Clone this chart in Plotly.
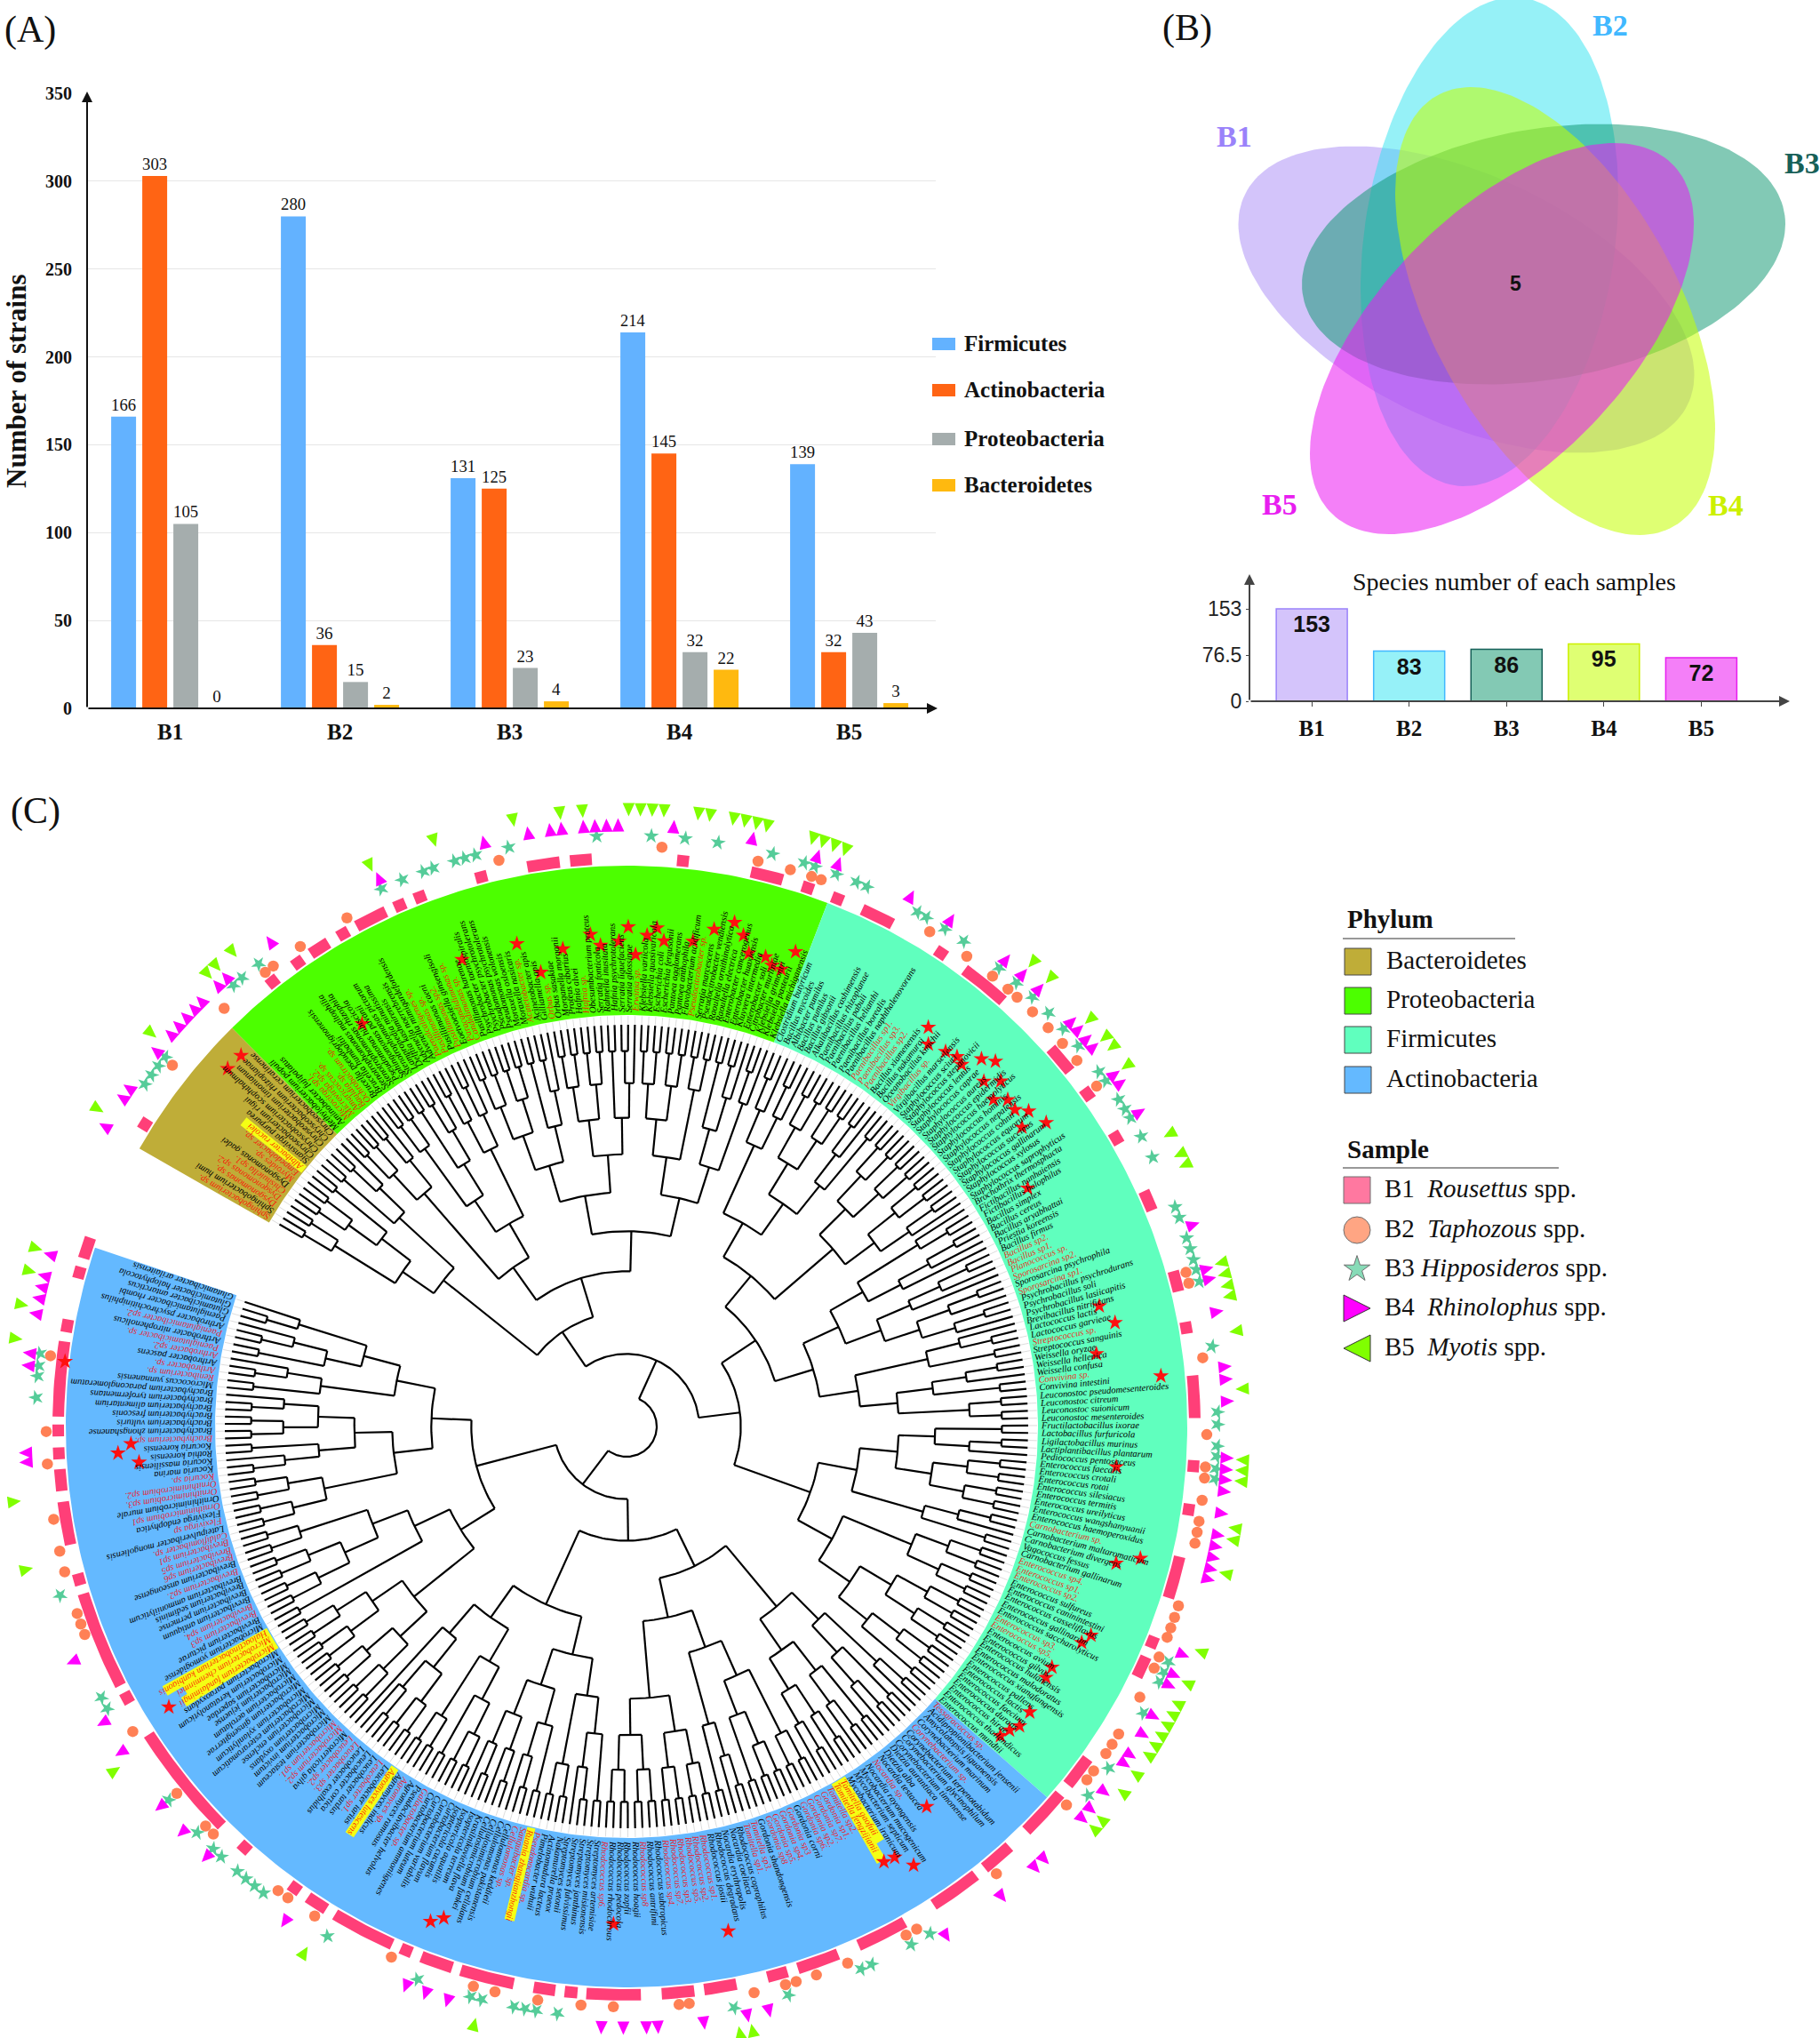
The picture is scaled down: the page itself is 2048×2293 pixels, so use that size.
import math
import plotly.graph_objects as go

# ---------- Panel A ----------
SAMPLES = ["B1", "B2", "B3", "B4", "B5"]
FIRMICUTES = [166, 280, 131, 214, 139]
ACTINOBACTERIA = [303, 36, 125, 145, 32]
PROTEOBACTERIA = [105, 15, 23, 32, 43]
BACTEROIDETES = [0, 2, 4, 22, 3]
A_TICKS = [0, 50, 100, 150, 200, 250, 300, 350]

# ---------- Panel B ----------
SPECIES_COUNTS = [153, 83, 86, 95, 72]
SHARED_SPECIES = 5

# ---------- Panel C : leaves, clockwise ----------
BACTEROIDETES_TAXA = ["Sphingobacterium sp.", "Sphingobacterium humi", "Dysgonomonas sp.", "Dysgonomonas sp2.", "Chishuiella sp1.", "Dysgonomonas gadei", "Myroides sp.", "Empedobacter sp.", "Albibacter rucolei", "Siansivirga purpurea", "Chryseobacterium rigui", "Chryseobacterium scophthalmum", "Chryseobacterium timonianum", "Chryseobacterium rhizoplanae", "Chryseobacterium ceratinense"]
PROTEOBACTERIA_TAXA = ["Methylobacterium populi", "Aminobacter fujipalatus", "Microvirga sp1.", "Microvirga sp2.", "Amaricoccus sp.", "Bauldia sp.", "Ochrobactrum sp.", "Brucella pseudogrignonensis", "Brucella humbaltii", "Stenotrophomonas maltophilia", "Stenotrophomonas rhizophila", "Pseudomonas hibiscicola", "Sphingomonas pavanii", "Stenotrophomonas pictorum", "Lampropedia minutissima", "Delftia kashmirensis", "Advenella noerrebrensis", "Advenella mimigardefordensis", "Paenalcaligenes sp.", "Pusillimonas sp.", "Pusillimonas caeni", "Pusillimonas sp2.", "Eoetvoesiella ginsengisoli", "Paracandidimonas sp.", "Candidimonas sp.", "Pusillimonas harenae", "Psychrobacter taeniospiralis", "Psychrobacter psychrotolerans", "Pseudomonas psychrotolerans", "Pseudomonas wolonensis", "Moraxella osloensis", "Moraxella nasicaris", "Acinetobacter sp.", "Acinetobacter apis", "Gilliamella apis", "Orbus sp.", "Orbus sasakiae", "Morganella morganii", "Proteus cibarius", "Hafnia alvei", "Hafnia sp.", "Obesumbacterium proteus", "Serratia fonticola", "Rahnella inusitata", "Hafnia psychrotolerans", "Serratia liquefaciens", "Serratia glossinae", "Erwinia sp.", "Klebsiella variicola", "Klebsiella quasivaricola", "Escherichia coli", "Escherichia fergusonii", "Pantoea agglomerans", "Pantoea anthophila", "Flavobacterium acidificum", "Pseudocitrobacter sp.", "Serratia marcescens", "Pseudocitrobacter vendiensis", "Raoultella ornithinolytica", "Raoultella electrica", "Enterobacter cancerogenus", "Enterobacter huaxiensis", "Kluyvera intermedia", "Enterobacter soli", "Citrobacter murliniae", "Klebsiella grimontii", "Klebsiella pasteurii", "Klebsiella michiganensis"]
FIRMICUTES_TAXA = ["Clostridium butyricum", "Bacillus mycoides", "Albibacter pumilus", "Bacillus pumilus", "Bacillus gibsonii", "Alkalibacillus cashimensis", "Paenibacillus rhizoplanae", "Paenibacillus pabuli", "Paenibacillus helianthi", "Paenibacillus borealis", "Paenibacillus naphthalenovorans", "Paenibacillus sp1.", "Paenibacillus sp3.", "Paenibacillus sp2.", "Bacillus xiamenensis", "Bacillus nakamurai", "Oceanobacillus kimchii", "Virgibacillus sp.", "Virgibacillus marseilensis", "Staphylococcus sciuri", "Staphylococcus stepanovicii", "Staphylococcus lentus", "Staphylococcus caprae", "Staphylococcus aureus", "Staphylococcus epidermidis", "Staphylococcus haemolyticus", "Staphylococcus hominis", "Staphylococcus nepalensis", "Staphylococcus cohnii", "Staphylococcus equorum", "Staphylococcus succinus", "Staphylococcus gallinarum", "Staphylococcus xylosus", "Staphylococcus saprophyticus", "Brochothrix thermosphacta", "Fictibacillus nanhaiensis", "Fictibacillus halophilus", "Bacillus simplex", "Bacillus cereus", "Bacillus aryabhattai", "Priestia koreensis", "Bacillus firmus", "Bacillus sp2.", "Bacillus sp1.", "Planococcus sp.", "Sporosarcina sp2.", "Sporosarcina psychrophila", "Sporosarcina sp1.", "Psychrobacillus psychrodurans", "Psychrobacillus soli", "Psychrobacillus lasiicapitis", "Brevibacillus nitrificans", "Lactococcus lactis", "Lactococcus garvieae", "Streptococcus sp.", "Streptococcus sanguinis", "Weissella oryzae", "Weissella hellenica", "Weissella confusa", "Convivina sp.", "Convivina intestini", "Leuconostoc pseudomesenteroides", "Leuconostoc citreum", "Leuconostoc suionicum", "Leuconostoc mesenteroides", "Fructilactobacillus ixorae", "Lactobacillus furfuricola", "Ligilactobacillus murinus", "Lactiplantibacillus plantarum", "Pediococcus pentosaceus", "Enterococcus faecalis", "Enterococcus crotali", "Enterococcus rotai", "Enterococcus silesiacus", "Enterococcus termitis", "Enterococcus ureilyticus", "Enterococcus wangshanyuanii", "Enterococcus haemoperoxidus", "Carnobacterium sp.", "Carnobacterium maltaromaticum", "Carnobacterium divergens", "Vagococcus fessus", "Carnobacterium gallinarum", "Enterococcus sp4.", "Enterococcus sp1.", "Enterococcus sp2.", "Enterococcus sulfureus", "Enterococcus caninintestini", "Enterococcus casseliflavus", "Enterococcus gallinarum", "Enterococcus saccharolyticus", "Enterococcus sp3.", "Enterococcus sp5.", "Enterococcus avium", "Enterococcus gilvus", "Enterococcus hulanensis", "Enterococcus malodoratus", "Enterococcus xiangfangensis", "Enterococcus pallens", "Enterococcus lactis", "Enterococcus faecium", "Enterococcus durans", "Enterococcus hirae", "Enterococcus thailandicus", "Enterococcus mundtii"]
ACTINOBACTERIA_TAXA = ["Tessaracoccus sp.", "Acidipropionibacterium jensenii", "Amycolatopsis jiguanensis", "Corynebacterium marinum", "Corynebacterium sp.", "Corynebacterium terpenotabidum", "Corynebacterium glycinophilum", "Corynebacterium timonense", "Dietzia aurantiaca", "Dietzia alba", "Nocardia testacea", "Nocardia sp.", "Nocardia rayongensis", "Mycobacterium mucogenicum", "Mycobacterium septicum", "Mycobacterium iranicum", "Tomitella gaofuii", "Tomitella fengzijianii", "Tomitella sp2.", "Gordonia sp1.", "Gordonia sp7.", "Gordonia sp2.", "Gordonia sp6.", "Gordonia corni", "Gordonia sp3", "Gordonia sp4.", "Gordonia sp5.", "Gordonia sp8", "Gordonia shandongensis", "Tomitella sp3.", "Tomitella sp1.", "Rhodococcus coprophilus", "Nocardia coeliaca", "Nocardia erythropolis", "Rhodococcus degradans", "Rhodococcus jostii", "Rhodococcus sp1.", "Rhodococcus sp2.", "Rhodococcus sp5.", "Rhodococcus sp3.", "Rhodococcus sp7.", "Rhodococcus sp4.", "Rhodococcus subtropicus", "Rhodococcus antrifimi", "Rhodococcus sp8", "Rhodococcus hoagii", "Rhodococcus zopfii", "Rhodococcus pedocola", "Rhodococcus rhodochrous", "Rhodococcus sp6.", "Streptomyces artemisiae", "Streptomyces misionensis", "Streptomyces janthinus", "Streptomyces fulvissimus", "Streptomyces setonii", "Nakamurella praeox", "Actinomadura lacteus", "Pimelobacter wuhuii", "Pseudonocardia sp.", "Ruania zhangjianzhongii", "Sanguibacter sp.", "Cellulomonas sp.", "Cellulomonas keddieii", "Cellulomonas pakistanensis", "Cellulosimicrobium cellulans", "Cellulosimicrobium funkei", "Krasilnikoviella flava", "Isoptericola terreum", "Isoptericola aquatilis", "Isoptericola cucumis", "Curtobacterium flavum", "Curtobacterium variabilis", "Curtobacterium luteum", "Curtobacterium ammoniigenes", "Galactobacter sp.", "Pseudoclavibacter helvolus", "Agromyces ramosus", "Agromyces sp.", "Agromyces indicus", "Agromyces lutescens", "Leucobacter iarius", "Leucobacter sp1.", "Leucobacter tardus", "Leucobacter cortica", "Leucobacter exalbidus", "Leucobacter sp3.", "Leucobacter sp2.", "Microterricola gilva", "Microbacterium sp2.", "Microbacterium sp1.", "Microbacterium testaceum", "Microbacterium invictum", "Microbacterium oxydans", "Microbacterium enclense", "Microbacterium esteraromaticum", "Microbacterium xylanilyticum", "Microbacterium ginsengiterrae", "Microbacterium aerolatum", "Microbacterium jejuense", "Microbacterium saperdae", "Microbacterium keratanolyticum", "Microbacterium paraoxydans", "Microbacterium fandaimingii", "Microbacterium chenminmei", "Haloactinobacterium kanbiaonis", "Microbacterium yomogidense", "Brevibacterium picturae", "Brevibacterium sp3", "Brevibacterium sp4.", "Brevibacterium antiquum", "Brevibacterium permense", "Brevibacterium sediminis", "Brevibacterium ammoniilyticum", "Brevibacterium sp2.", "Brevibacterium anseongense", "Brevibacterium sp6", "Brevibacterium sp5", "Brevibacterium sp1", "Caldiflomibacter sp.", "Lateipulveribacter mongoliensis", "Flexivirga sp", "Flexivirga endophytica", "Ornithinimicrobium sp1", "Ornithinimicrobium murale", "Ornithinimicrobium sp3.", "Ornithinimicrobium sp2.", "Kocuria sp.", "Kocuria marina", "Kocuria massiliensis", "Rothia koreensis", "Kocuria koreensis", "Brachybacterium sp.", "Brachybacterium zhongshanense", "Brachybacterium vulturis", "Brachybacterium fresconis", "Brachybacterium alimentarium", "Brachybacterium tyrofermentans", "Brachybacterium paraconglomeratum", "Micrococcus yunnanensis", "Renibacterium sp.", "Arthrobacter sp.", "Arthrobacter pascens", "Arthrobacter sp2.", "Paeniglutamicibacter sp.", "Arthrobacter nitrophenolicus", "Paeniglutamicibacter sp2.", "Arthrobacter psychrochitiniphilus", "Paeniglutamicibacter rhombi", "Glutamicibacter antarcticus", "Glutamicibacter halophytocola", "Glutamicibacter arilaitensis"]
HIGHLIGHTED = ["Albibacter rucolei", "Tomitella gaofuii", "Tomitella fengzijianii", "Ruania zhangjianzhongii", "Agromyces lutescens", "Microbacterium fandaimingii", "Microbacterium chenminmei", "Haloactinobacterium kanbiaonis"]

# Clade span (degrees clockwise from north)
PHYLUM_NAMES = ["Bacteroidetes", "Proteobacteria", "Firmicutes", "Actinobacteria"]
PHYLUM_START = [-60.3, -44.7, 21.0, 131.4]
PHYLUM_END = [-44.7, 21.0, 131.4, 288.6]
PHYLUM_COLORS = ["#BFAD38", "#4CFF00", "#60FFBE", "#64B9FF"]

# B1 blocks: centre angle, angular width
B1_ANGLE = [-57.9, -38.5, -35.3, -32.7, -29.9, -26.7, -23.5, -21.3, -14.8, -8.4, -4.6, 5.7, 14.3, 18.6, 21.8, 26.2, 33.6, 39, 49.8, 54.2, 59.5, 66.6, 75.2, 80, 87, 94, 98.4, 105.4, 112.3, 115, 127.4, 132.8, 139.3, 144.7, 153.3, 160.3, 164.6, 170.5, 174.8, 181.3, 185.6, 188.3, 194.2, 199.5, 202.8, 207.6, 213, 215.7, 222.2, 231.3, 241.5, 247.9, 254.4, 260.2, 264.6, 267.3, 269.6, 274.8, 280.2, 285.7, 288.3]
B1_WIDTH = [1.2, 1.2, 1.2, 2.1, 1.2, 3.3, 1.2, 1.2, 1.2, 3.3, 2.2, 1.2, 3.3, 1.2, 1.2, 3.4, 1.2, 5, 3, 1.3, 1.3, 2.1, 2.1, 1.2, 4.3, 1.2, 1.2, 4.3, 1.2, 2.2, 3.3, 5, 3.3, 5.2, 5.2, 4.3, 2.1, 3.3, 3.3, 5.5, 1.3, 2.2, 5.5, 3.3, 1.2, 6.5, 2.2, 1.2, 1.2, 11.8, 1.2, 10, 1.2, 4.4, 2.2, 1.2, 1.2, 7.6, 1.3, 1.2, 2.2]
B2_ANGLE = [-51.5, -43.9, -38.5, -37.5, -34.2, -28.8, -12.7, 3.5, 13.1, 16.4, 18.6, 19.6, 31.5, 35.9, 39.1, 41.1, 42.3, 44.4, 46.6, 48.7, 50.9, 54.1, 74.6, 75.7, 83.2, 90.8, 94, 95.1, 97.3, 99.4, 100.5, 101.6, 108, 109.2, 110.3, 111.3, 113.4, 114.6, 117.8, 122, 123.2, 124.3, 126.4, 127.5, 130.7, 140.4, 150, 151.2, 157.6, 160.9, 163, 164.1, 167.3, 173.8, 174.8, 181.3, 184.5, 188.8, 193.1, 195.3, 203.9, 212.5, 215.7, 216.9, 225.4, 226.5, 230.8, 238.3, 249, 250.1, 251.2, 255.5, 257.6, 260.8, 266.3, 269.5, 277]
B3_ANGLE = [-54.6, -53.5, -52.4, -51.3, -41.7, -40.6, -38.5, -24.5, -22.3, -20.1, -19.1, -16.9, -15.9, -14.8, -11.5, -2.9, 2.4, 5.7, 8.9, 14.3, 17.5, 18.6, 20.8, 22.9, 24, 29.5, 30.5, 32.6, 34.8, 39.1, 41.3, 43.4, 45.6, 47.7, 49.9, 53.1, 54.2, 56.4, 57.5, 58.5, 60.6, 62.9, 68.2, 69.3, 71.4, 72.5, 73.6, 74.6, 75.8, 82.2, 88.6, 89.8, 91.9, 92.9, 94.1, 95.1, 113.5, 114.6, 115.6, 119, 125.3, 128.6, 149.1, 151.2, 155.5, 156.6, 164.1, 169.5, 186.7, 188.8, 189.9, 191, 194.2, 195.3, 200.7, 210.4, 217.9, 219, 220.1, 221.2, 223.3, 224.4, 226.6, 230.8, 241.5, 242.7, 253.4, 272.8, 274.9, 275.9, 277.1]
B4_ANGLE = [-60.1, -56.9, -55.8, -51.4, -49.3, -48.2, -47.1, -46, -45, -42.8, -41.7, -36.3, -24.3, -13.7, -9.4, -7.3, -6.2, -4.1, -3, -1.9, -0.8, 4.5, 12.1, 18.5, 20.6, 28.2, 32.6, 39.1, 41.2, 43.3, 47.7, 48.7, 49.9, 50.9, 54.2, 55.2, 58.5, 70.4, 74.8, 75.8, 79, 84.3, 85.5, 87.6, 93, 94.1, 95.1, 96.2, 98.3, 100.4, 101.5, 102.6, 103.7, 104.7, 112.3, 114.4, 115.5, 118.8, 120.8, 123.1, 124.1, 127.4, 129.5, 130.7, 136, 137.2, 141.4, 147.9, 166.3, 168.4, 172.6, 177, 178.1, 180.3, 182.4, 197.3, 199.5, 201.5, 214.6, 224.3, 227.6, 230.8, 237.2, 240.5, 247, 266.6, 267.5, 275.8, 277, 280.8, 282.3, 283.4, 284.5, 286.6]
B5_ANGLE = [-59, -50.4, -42.8, -41.7, -39.7, -24.6, -18.2, -10.6, -6.2, -4.1, 0.2, 1.3, 2.4, 3.5, 6.7, 7.8, 10, 11.1, 12.2, 13.2, 17.6, 18.6, 19.7, 20.8, 41.2, 43.4, 48.7, 50.9, 52, 54.2, 61.7, 63.8, 64.9, 74.6, 75.7, 76.8, 77.8, 81.1, 86.5, 93.1, 94.1, 95.1, 99.5, 100.6, 103.8, 111.4, 114.6, 116.7, 117.8, 118.9, 120, 121.1, 122.2, 124.3, 126.4, 129.6, 130.7, 168.2, 169.4, 194.3, 211.5, 236.1, 256.6, 263, 278.2, 281.4, 284.6, 286.8]

# Red stars: angle, radius
STAR_ANGLE = [-48.1, -46.1, -33.3, -19.4, -12.8, -10.7, -7.6, -4.2, -3.1, -0.9, 0.2, 1.1, 2.4, 3.5, 4.4, 7.8, 10, 12.1, 13.4, 14.5, 16.5, 17.5, 18.7, 19.6, 37.1, 38.3, 40.4, 41.8, 42.8, 44, 45.3, 46, 47.3, 48.3, 49.4, 50.8, 51.9, 52.9, 54.1, 59.3, 75.7, 78, 81.2, 84.6, 94.7, 104.4, 105.6, 114.2, 115.4, 119.5, 120.9, 125.3, 127.3, 128.4, 129.6, 141.7, 146.8, 148.1, 149.4, 168.6, 181.5, 200.4, 201.6, 238.5, 265.8, 267, 268, 276.6]
STAR_RADIUS = [603, 602, 542, 557, 557, 520, 542, 555, 542, 546, 562, 531, 553, 562, 548, 551, 568, 580, 568, 550, 551, 544, 543, 567, 563, 548, 554, 558, 555, 575, 584, 559, 573, 553, 565, 564, 575, 558, 583, 525, 549, 562, 535, 604, 553, 597, 572, 573, 567, 550, 550, 556, 556, 550, 546, 545, 590, 571, 569, 579, 560, 590, 599, 604, 550, 573, 558, 636]

# ---------- geometry constants ----------
CX, CY = 705.0, 1605.0
R_IN, R_OUT = 463.0, 631.0
R_TIP, R_ROOT = 452.0, 34.0
R_LABEL = 466.0
LABEL_BOX = 176.0
CHAR_W = 3.95
W, H = 2048, 2293
SERIF = "Liberation Serif"
SANS = "Liberation Sans"


def polar(theta, r):
    t = math.radians(theta)
    return CX + r * math.sin(t), CY - r * math.cos(t)


def annular(t0, t1, r0, r1):
    n = max(2, int(abs(t1 - t0) / 0.7) + 1)
    ts = [t0 + (t1 - t0) * i / n for i in range(n + 1)]
    pts = [polar(t, r1) for t in ts] + [polar(t, r0) for t in reversed(ts)]
    pts.append(pts[0])
    return [p[0] for p in pts], [p[1] for p in pts]


fig = go.Figure()

# ---- Panel A bars
A_SERIES = [("Firmicutes", FIRMICUTES, "#63B2FF"), ("Actinobacteria", ACTINOBACTERIA, "#FF6414"),
            ("Proteobacteria", PROTEOBACTERIA, "#A5ADAD"), ("Bacteroidetes", BACTEROIDETES, "#FFB90F")]
for name, vals, col in A_SERIES:
    fig.add_trace(go.Bar(x=SAMPLES, y=vals, name=name,
                         marker=dict(color=col, line=dict(width=8, color="rgba(0,0,0,0)")),
                         text=vals, textposition="outside", cliponaxis=False,
                         textfont=dict(family=SERIF, size=19, color="#111"),
                         showlegend=False, xaxis="x", yaxis="y"))

# ---- Panel B counts
B_LIGHT = ["#D4C4FB", "#96F1F8", "#83C9B4", "#DFFF73", "#F47FF8"]
B_EDGE = ["#9A82FA", "#41B8FF", "#176058", "#CCF000", "#E81EF0"]
fig.add_trace(go.Bar(x=SAMPLES, y=SPECIES_COUNTS, width=0.73, marker=dict(color=B_LIGHT, line=dict(color=B_EDGE, width=1.5)),
                     texttemplate="<b>%{y}</b>", textposition="inside", insidetextanchor="end", textangle=0,
                     textfont=dict(family=SANS, size=25, color="#111"), showlegend=False, xaxis="x2", yaxis="y2"))

# ---- Venn petals: centre, half extents, offset at the right-most point
VENN = [("B1", 1650, 337, 256.5, 172.5, 85, "rgba(168,138,245,0.5)"),
        ("B2", 1676, 272, 145, 275, -53, "rgba(46,227,240,0.5)"),
        ("B3", 1737, 286, 272, 146.5, -34, "rgba(5,148,107,0.5)"),
        ("B4", 1750, 350, 180, 252, 133, "rgba(196,255,0,0.55)"),
        ("B5", 1690, 381, 216, 220, -129, "rgba(235,23,242,0.55)")]
for name, cx, cy, hw, hh, dy, col in VENN:
    xs, ys = [], []
    k = math.sqrt(max(hh * hh - dy * dy, 1))
    for i in range(181):
        t = math.radians(i * 2)
        xs.append(cx + hw * math.cos(t))
        ys.append(cy + dy * math.cos(t) + k * math.sin(t))
    fig.add_trace(go.Scatter(x=xs, y=ys, mode="lines", fill="toself", fillcolor=col, line=dict(width=0),
                             name=name, showlegend=False, xaxis="x3", yaxis="y3", hoverinfo="name"))

# ---- Panel C sectors
PHYLUM_TAXA = [BACTEROIDETES_TAXA, PROTEOBACTERIA_TAXA, FIRMICUTES_TAXA, ACTINOBACTERIA_TAXA]
for name, t0, t1, col in zip(PHYLUM_NAMES, PHYLUM_START, PHYLUM_END, PHYLUM_COLORS):
    xs, ys = annular(t0, t1, R_IN, R_OUT)
    fig.add_trace(go.Scatter(x=xs, y=ys, mode="lines", fill="toself", fillcolor=col, line=dict(width=0),
                             name=name, showlegend=False, xaxis="x3", yaxis="y3", hoverinfo="name"))

# leaves
leaves = []
for taxa, t0, t1 in zip(PHYLUM_TAXA, PHYLUM_START, PHYLUM_END):
    step = (t1 - t0) / len(taxa)
    for i, nm in enumerate(taxa):
        leaves.append((nm, t0 + (i + 0.5) * step, step))

# yellow highlights
yx, yy = [], []
for nm, th, step in leaves:
    if nm in HIGHLIGHTED:
        a, b = annular(th - step * 0.55, th + step * 0.55, R_LABEL - 2, R_LABEL + len(nm) * CHAR_W + 14)
        yx += a + [None]
        yy += b + [None]
fig.add_trace(go.Scatter(x=yx, y=yy, mode="lines", fill="toself", fillcolor="#F4FF14", line=dict(width=0),
                         showlegend=False, xaxis="x3", yaxis="y3", hoverinfo="skip"))


# tree: adjacent merges inside each genus, then among genera, then among phyla
def leaf_node(th):
    return {"kids": [], "n": 1, "h": 0, "th": th, "lo": th, "hi": th}


def merge_all(nodes):
    nodes = list(nodes)
    while len(nodes) > 1:
        best = min(range(len(nodes) - 1), key=lambda i: nodes[i]["n"] + nodes[i + 1]["n"])
        a, b = nodes[best], nodes[best + 1]
        nodes[best:best + 2] = [{"kids": [a, b], "n": a["n"] + b["n"], "h": 1 + max(a["h"], b["h"]),
                                 "th": (a["th"] + b["th"]) / 2, "lo": a["th"], "hi": b["th"]}]
    return nodes[0]


phyla_nodes = []
idx = 0
for taxa in PHYLUM_TAXA:
    genera, cur, prev = [], [], None
    for nm in taxa:
        g = nm.split()[0]
        if g != prev and cur:
            genera.append(merge_all(cur))
            cur = []
        cur.append(leaf_node(leaves[idx][1]))
        prev = g
        idx += 1
    genera.append(merge_all(cur))
    phyla_nodes.append(merge_all(genera))
root = merge_all(phyla_nodes)
hmax = root["h"]


def node_r(h):
    return R_TIP - (R_TIP - R_ROOT) * (h / hmax) ** 1.15


tx, ty = [], []


def walk(n):
    r = node_r(n["h"])
    if n["kids"]:
        steps = max(2, int((n["hi"] - n["lo"]) / 1.5))
        for i in range(steps + 1):
            p = polar(n["lo"] + (n["hi"] - n["lo"]) * i / steps, r)
            tx.append(p[0])
            ty.append(p[1])
        tx.append(None)
        ty.append(None)
        for k in n["kids"]:
            a, b = polar(k["th"], r), polar(k["th"], node_r(k["h"]))
            tx.extend([a[0], b[0], None])
            ty.extend([a[1], b[1], None])
            walk(k)


walk(root)
fig.add_trace(go.Scatter(x=tx, y=ty, mode="lines", line=dict(color="#000", width=2.2), showlegend=False,
                         xaxis="x3", yaxis="y3", hoverinfo="skip"))
gx, gy = [], []
for nm, th, step in leaves:
    a, b = polar(th, R_TIP), polar(th, R_IN - 1)
    gx.extend([a[0], b[0], None])
    gy.extend([a[1], b[1], None])
fig.add_trace(go.Scatter(x=gx, y=gy, mode="lines", line=dict(color="#CFCFCF", width=0.7), showlegend=False,
                         xaxis="x3", yaxis="y3", hoverinfo="skip"))

# B1 ring
px_, py_ = [], []
for th, wd in zip(B1_ANGLE, B1_WIDTH):
    a, b = annular(th - wd / 2, th + wd / 2, 633, 646)
    px_ += a + [None]
    py_ += b + [None]
RING_COLORS = ["#FF3F78", "#FF8055", "#55CC99", "#FF00FF", "#80FF00"]
fig.add_trace(go.Scatter(x=px_, y=py_, mode="lines", fill="toself", fillcolor=RING_COLORS[0], line=dict(width=0),
                         name="B1", showlegend=False, xaxis="x3", yaxis="y3", hoverinfo="name"))


def ring_marks(angles, r, symbol, color, size, name):
    pts = [polar(t, r) for t in angles]
    fig.add_trace(go.Scatter(x=[p[0] for p in pts], y=[p[1] for p in pts], mode="markers", name=name, showlegend=False,
                             marker=dict(symbol=symbol, color=color, size=size, angle=list(angles), line=dict(width=0)),
                             xaxis="x3", yaxis="y3", hoverinfo="name"))


def ring_triangles(angles, r, outward, color, name, half_w=6.8, half_h=7.5):
    xs, ys = [], []
    sgn = 1 if outward else -1
    for t in angles:
        cx, cy = polar(t, r)
        a = math.radians(t)
        ux, uy = math.sin(a), -math.cos(a)
        vx, vy = math.cos(a), math.sin(a)
        corners = [(sgn * half_h, 0), (-sgn * half_h, half_w), (-sgn * half_h, -half_w), (sgn * half_h, 0)]
        xs += [cx + u * ux + v * vx for u, v in corners] + [None]
        ys += [cy + u * uy + v * vy for u, v in corners] + [None]
    fig.add_trace(go.Scatter(x=xs, y=ys, mode="lines", fill="toself", fillcolor=color, line=dict(width=0), name=name,
                             showlegend=False, xaxis="x3", yaxis="y3", hoverinfo="name"))


ring_marks(B2_ANGLE, 653, "circle", RING_COLORS[1], 12.5, "B2")
ring_marks(B3_ANGLE, 665, "star", RING_COLORS[2], 13, "B3")
ring_triangles(B4_ANGLE, 677, True, RING_COLORS[3], "B4")
ring_triangles(B5_ANGLE, 694, False, RING_COLORS[4], "B5")
pts = [polar(t, r) for t, r in zip(STAR_ANGLE, STAR_RADIUS)]
fig.add_trace(go.Scatter(x=[p[0] for p in pts], y=[p[1] for p in pts], mode="markers", name="Type strain", showlegend=False,
                         marker=dict(symbol="star", color="#FF1010", size=13.5, line=dict(width=0)),
                         xaxis="x3", yaxis="y3", hoverinfo="name"))

# Legend C symbols
LEG_P_Y = [1082, 1126, 1170, 1215]
LEG_P_NAMES = ["Bacteroidetes", "Proteobacteria", "Firmicutes", "Actinobacteria"]
LEG_S_Y = [1339, 1384, 1428, 1472, 1517]
LEG_S_NAMES = ["B1  <i>Rousettus</i> spp.", "B2  <i>Taphozous</i> spp.", "B3 <i>Hipposideros</i> spp.",
               "B4  <i>Rhinolophus</i> spp.", "B5  <i>Myotis</i> spp."]
fig.add_trace(go.Scatter(x=[1528] * 4, y=LEG_P_Y, mode="markers", showlegend=False, xaxis="x3", yaxis="y3", hoverinfo="skip",
                         marker=dict(symbol="square", size=30, color=PHYLUM_COLORS, line=dict(color="#444", width=1))))
fig.add_trace(go.Scatter(x=[1527] * 3, y=LEG_S_Y[:3], mode="markers", showlegend=False, xaxis="x3", yaxis="y3", hoverinfo="skip",
                         marker=dict(symbol=["square", "circle", "star"], size=[30, 30, 22],
                                     color=["#FF3F78", "#FF7F50", "#55CC99"], line=dict(color="#333", width=1))))
for y, d, col in [(LEG_S_Y[3], 1, "#FF00FF"), (LEG_S_Y[4], -1, "#80FF00")]:
    fig.add_trace(go.Scatter(x=[1527 + d * 15, 1527 - d * 15, 1527 - d * 15, 1527 + d * 15], y=[y, y - 15, y + 15, y],
                             mode="lines", fill="toself", fillcolor=col, line=dict(color="#333", width=1),
                             showlegend=False, xaxis="x3", yaxis="y3", hoverinfo="skip"))

# ---- annotations
ann = []


def text(x, y, s, size, color="#111", family=SERIF, anchor="left", **kw):
    ann.append(dict(x=x, y=y, xref="x3", yref="y3", text=s, showarrow=False, xanchor=anchor, yanchor="middle",
                    font=dict(family=family, size=size, color=color), **kw))


def arrow(x0, y0, x1, y1, color):
    ann.append(dict(x=x1, y=y1, ax=x0, ay=y0, xref="x3", yref="y3", axref="x3", ayref="y3", text="", showarrow=True,
                    arrowhead=2, arrowsize=1.2, arrowwidth=2, arrowcolor=color))


text(3, 33, "(A)", 42)
text(1306, 31, "(B)", 42)
text(10, 912, "(C)", 42)
text(18, 429, "<b>Number of strains</b>", 31, anchor="center", textangle=-90)

# A legend
A_LEG_Y = [387, 439, 494, 546]
for (name, vals, col), y in zip(A_SERIES, A_LEG_Y):
    text(1083, y - 1, "<b>" + name + "</b>", 25)
arrow(98, 797, 98, 103, "#111")
arrow(98, 797, 1055, 797, "#111")

# Venn text
text(1705, 319, "<b>%d</b>" % SHARED_SPECIES, 23, family=SANS, anchor="center")
for s, x, y, c in zip(SAMPLES, [1389, 1812, 2028, 1942, 1440], [153, 28, 183, 568, 567], B_EDGE):
    text(x, y, "<b>" + s + "</b>", 34, color=c, anchor="center")
text(1704, 654, "Species number of each samples", 28, anchor="center")
arrow(1406, 789, 1406, 646, "#444")
arrow(1406, 789, 2014, 789, "#444")

# C legend
text(1514, 1034, "<b>Phylum</b>", 29)
text(1514, 1293, "<b>Sample</b>", 29)
for s, y in zip(LEG_P_NAMES, LEG_P_Y):
    text(1558, y - 2, s, 29)
for s, y in zip(LEG_S_NAMES, LEG_S_Y):
    text(1556, y - 2, s, 29)

# leaf labels
for nm, th, step in leaves:
    x, y = polar(th, R_LABEL + LABEL_BOX / 2)
    is_sp = " sp" in nm
    col = "rgba(255,0,0,0.85)" if is_sp or nm in HIGHLIGHTED else "#000"
    ann.append(dict(x=x, y=y, xref="x3", yref="y3", text="<i>" + nm + "</i>", showarrow=False,
                    textangle=th - 90, width=LABEL_BOX, align="left", xanchor="center", yanchor="middle", borderpad=0,
                    font=dict(family=SERIF, size=10.5, color=col)))

shapes = []
for (name, vals, col), y in zip(A_SERIES, A_LEG_Y):
    shapes.append(dict(type="rect", xref="x3", yref="y3", x0=1049, x1=1075, y0=y - 7, y1=y + 7, fillcolor=col, line=dict(width=0)))
shapes.append(dict(type="line", xref="x3", yref="y3", x0=1511, x1=1705, y0=1056, y1=1056, line=dict(color="#333", width=1)))
shapes.append(dict(type="line", xref="x3", yref="y3", x0=1511, x1=1754, y0=1314, y1=1314, line=dict(color="#333", width=1)))

fig.update_layout(
    width=W, height=H, margin=dict(l=0, r=0, t=0, b=0, pad=0), autosize=False,
    paper_bgcolor="white", plot_bgcolor="rgba(0,0,0,0)", showlegend=False,
    barmode="group", bargap=0.267, bargroupgap=0.2,
    annotations=ann, shapes=shapes,
    xaxis=dict(domain=[98 / W, 1053 / W], anchor="y", type="category", categoryorder="array", categoryarray=SAMPLES,
               range=[-0.49, 4.51], showline=False, showgrid=False, ticks="", zeroline=False, automargin=False,
               ticklabelstandoff=9, tickfont=dict(family=SERIF, size=25, color="#111", weight="bold")),
    yaxis=dict(domain=[1 - 797 / H, 1 - 105 / H], anchor="x", range=[0, 350], tickvals=A_TICKS, showgrid=True,
               gridcolor="#E6E6E6", gridwidth=1, zeroline=False, showline=False, ticks="", ticklabelstandoff=16,
               automargin=False, tickfont=dict(family=SERIF, size=20, color="#111", weight="bold")),
    xaxis2=dict(domain=[1406 / W, 2013 / W], anchor="y2", type="category", categoryorder="array", categoryarray=SAMPLES,
                range=[-0.64, 4.9], showline=False, showgrid=False, zeroline=False, ticks="outside", ticklen=5, tickcolor="#444",
                automargin=False, tickfont=dict(family=SERIF, size=25, color="#111", weight="bold"), ticklabelstandoff=3),
    yaxis2=dict(domain=[1 - 789 / H, 1 - 647 / H], anchor="x2", range=[0, 209], tickvals=[0, 76.5, 153],
                showgrid=False, zeroline=False, showline=False, ticks="outside", ticklen=3, tickcolor="#444",
                automargin=False, tickfont=dict(family=SANS, size=23, color="#222")),
    xaxis3=dict(domain=[0, 1], anchor="y3", range=[0, W], visible=False, fixedrange=True, automargin=False),
    yaxis3=dict(domain=[0, 1], anchor="x3", range=[H, 0], visible=False, fixedrange=True, automargin=False),
)

fig.write_html("out.html", config=dict(displayModeBar=False), post_script="document.body.style.margin='0';")
